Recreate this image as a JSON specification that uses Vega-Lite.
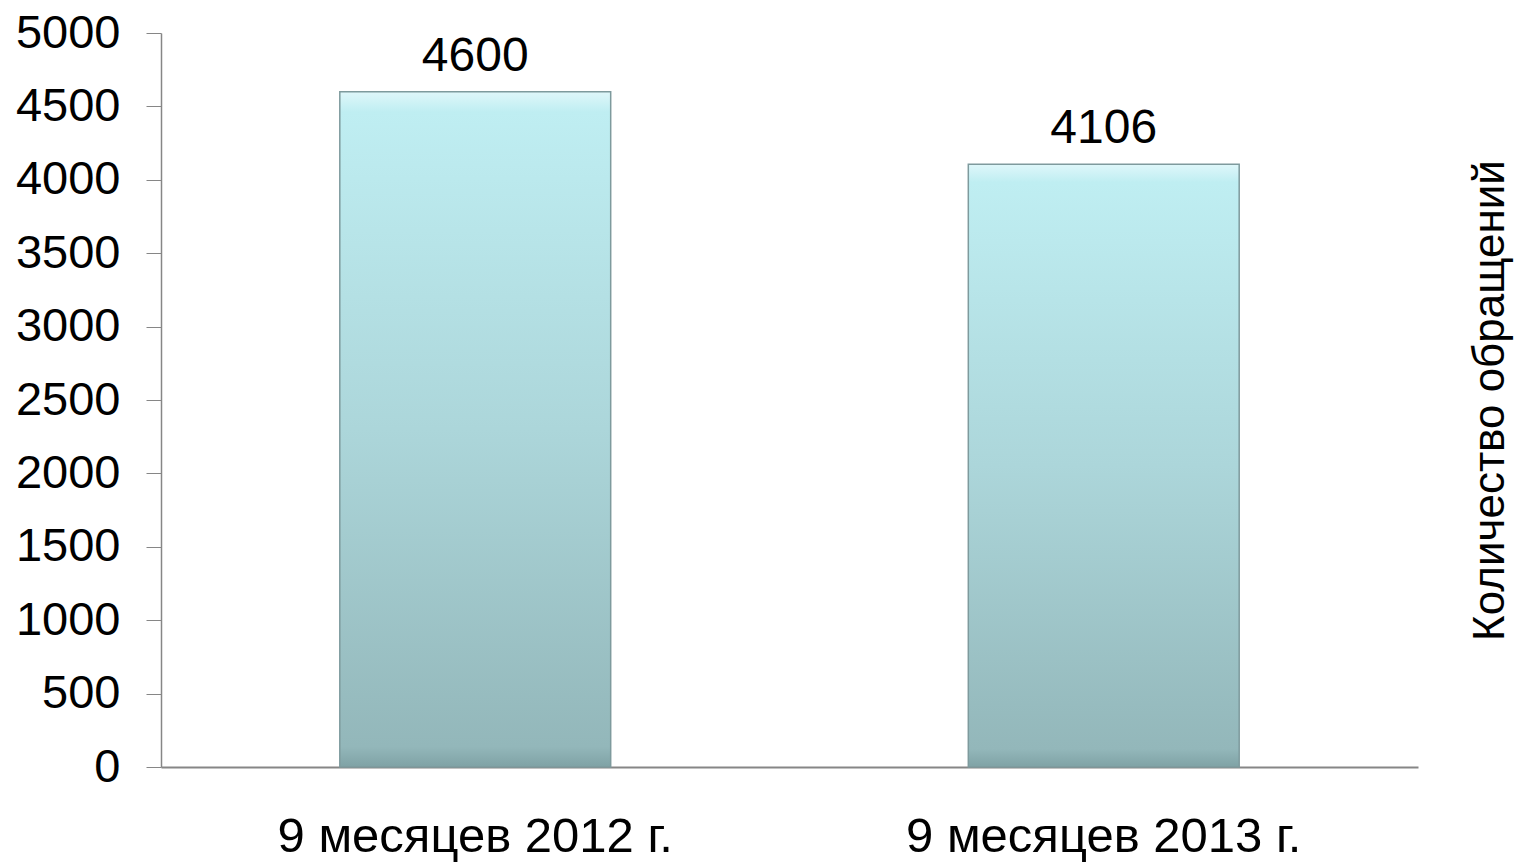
{
  "$schema": "https://vega.github.io/schema/vega-lite/v6.json",
  "autosize": "none",
  "width": 1257,
  "height": 734,
  "padding": {"left": 161, "top": 33, "right": 102, "bottom": 96},
  "background": "white",
  "config": {
    "font": "Liberation Sans",
    "view": {"stroke": null},
    "axis": {"grid": false, "domainColor": "#868686", "tickColor": "#868686", "labelColor": "#000000", "labelFont": "Liberation Sans", "labelFontSize": 47, "titleFont": "Liberation Sans", "titleColor": "#000000", "titleFontWeight": "normal"}
  },
  "data": {
    "values": [
      {"period": "9 месяцев 2012 г.", "count": 4600},
      {"period": "9 месяцев 2013 г.", "count": 4106}
    ]
  },
  "encoding": {
    "x": {
      "field": "period",
      "type": "nominal",
      "sort": null,
      "scale": {"paddingInner": 0.569, "paddingOuter": 0.2845},
      "axis": {"title": null, "labelAngle": 0, "ticks": false, "labelFontSize": 49, "labelPadding": 45, "labelLimit": 0, "domainWidth": 2}
    }
  },
  "layer": [
    {
      "mark": {
        "type": "bar",
        "stroke": "#7e9a9d",
        "strokeWidth": 1.5,
        "color": {
          "gradient": "linear",
          "x1": 0, "y1": 0, "x2": 0, "y2": 1,
          "stops": [
            {"offset": 0, "color": "#dff7fa"},
            {"offset": 0.03, "color": "#bfeef2"},
            {"offset": 0.5, "color": "#acd6da"},
            {"offset": 0.97, "color": "#93b7ba"},
            {"offset": 1, "color": "#7fa2a5"}
          ]
        }
      },
      "encoding": {
        "y": {
          "field": "count",
          "type": "quantitative",
          "scale": {"domain": [0, 5000]},
          "axis": {"title": null, "format": "d", "values": [0, 500, 1000, 1500, 2000, 2500, 3000, 3500, 4000, 4500, 5000], "tickSize": 15, "labelPadding": 26, "domainWidth": 1.5}
        }
      }
    },
    {
      "mark": {"type": "text", "baseline": "alphabetic", "dy": -21, "fontSize": 48, "color": "#000000"},
      "encoding": {
        "y": {
          "field": "count",
          "type": "quantitative",
          "scale": {"domain": [0, 5000]},
          "axis": {"orient": "right", "title": "Количество обращений", "titleFontSize": 44, "titleAngle": 270, "titlePadding": 94, "domain": false, "ticks": false, "labels": false}
        },
        "text": {"field": "count", "type": "quantitative"}
      }
    }
  ],
  "resolve": {"axis": {"y": "independent"}}
}
